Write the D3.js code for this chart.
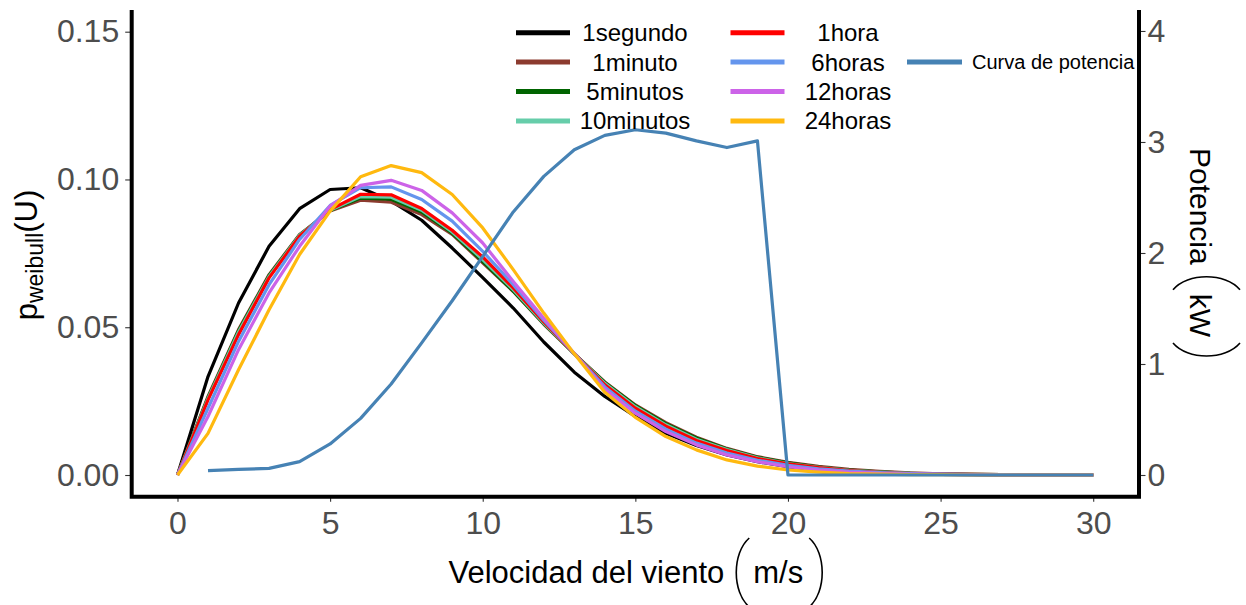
<!DOCTYPE html>
<html>
<head>
<meta charset="utf-8">
<script src="https://cdn.jsdelivr.net/npm/d3@7"></script>
<style>
  body { margin: 0; background: #ffffff; }
  svg { display: block; font-family: "Liberation Sans", Arial, sans-serif; }
</style>
</head>
<body>
<svg id="chart" width="1246" height="605"></svg>
<script>
// ---- data ---------------------------------------------------------------
// wind speed (m/s) at which the Weibull densities are evaluated
const speeds = d3.range(0, 31);

// Weibull probability density for each averaging interval
const p1segundo = [0, 0.0333, 0.0582, 0.0774, 0.0901, 0.0966, 0.0972, 0.0927, 0.0862, 0.0768, 0.0668,
  0.0565, 0.0450, 0.0348, 0.0266, 0.0198, 0.0141, 0.0100, 0.0068, 0.0045, 0.0028,
  0.0017, 0.0010, 0.0006, 0.0003, 0.0002, 0.0001, 0.00005, 0, 0, 0];
const p1minuto = [0, 0.0266, 0.0492, 0.0678, 0.0814, 0.0893, 0.0930, 0.0923, 0.0881, 0.0814, 0.0718,
  0.0621, 0.0510, 0.0410, 0.0315, 0.0237, 0.0177, 0.0128, 0.0090, 0.0062, 0.0043,
  0.0029, 0.0019, 0.0012, 0.0007, 0.0004, 0.0002, 0.0001, 0.00005, 0, 0];
const p5minutos = [0, 0.0262, 0.0488, 0.0675, 0.0812, 0.0895, 0.0937, 0.0933, 0.0890, 0.0818, 0.0722,
  0.0622, 0.0512, 0.0410, 0.0313, 0.0235, 0.0174, 0.0125, 0.0088, 0.0060, 0.0041,
  0.0027, 0.0017, 0.0011, 0.0006, 0.0004, 0.0002, 0.0001, 0.00005, 0, 0];
const p10minutos = [0, 0.0259, 0.0484, 0.0672, 0.0811, 0.0896, 0.0942, 0.0940, 0.0896, 0.0822, 0.0729,
  0.0627, 0.0514, 0.0410, 0.0310, 0.0231, 0.0170, 0.0121, 0.0086, 0.0058, 0.0039,
  0.0026, 0.0016, 0.0010, 0.0006, 0.0003, 0.0002, 0.0001, 0, 0, 0];
const p1hora = [0, 0.0254, 0.0475, 0.0667, 0.0808, 0.0898, 0.0950, 0.0948, 0.0902, 0.0828, 0.0738,
  0.0633, 0.0518, 0.0411, 0.0305, 0.0226, 0.0165, 0.0117, 0.0083, 0.0056, 0.0038,
  0.0025, 0.0015, 0.0009, 0.0005, 0.0003, 0.0002, 0.0001, 0, 0, 0];
const p6horas = [0, 0.0226, 0.0452, 0.0644, 0.0797, 0.0912, 0.0972, 0.0975, 0.0932, 0.0859, 0.0757,
  0.0644, 0.0524, 0.0411, 0.0298, 0.0216, 0.0155, 0.0108, 0.0074, 0.0050, 0.0033,
  0.0021, 0.0013, 0.0008, 0.0005, 0.0003, 0.0001, 0.0001, 0, 0, 0];
const p12horas = [0, 0.0198, 0.0424, 0.0616, 0.0774, 0.0910, 0.0980, 0.0997, 0.0963, 0.0887, 0.0785,
  0.0655, 0.0530, 0.0411, 0.0290, 0.0209, 0.0147, 0.0102, 0.0068, 0.0045, 0.0028,
  0.0017, 0.0010, 0.0006, 0.0003, 0.0002, 0.0001, 0, 0, 0, 0];
const p24horas = [0, 0.0141, 0.0356, 0.0559, 0.0746, 0.0893, 0.1009, 0.1047, 0.1023, 0.0949, 0.0836,
  0.0695, 0.0548, 0.0410, 0.0280, 0.0195, 0.0130, 0.0085, 0.0051, 0.0030, 0.0017,
  0.0010, 0.0005, 0.0003, 0.0001, 0.0001, 0, 0, 0, 0, 0];

const seriesNames = ["1segundo", "1minuto", "5minutos", "10minutos", "1hora", "6horas", "12horas", "24horas"];
const seriesValues = [p1segundo, p1minuto, p5minutos, p10minutos, p1hora, p6horas, p12horas, p24horas];
const seriesColors = ["#000000", "#8C3B2F", "#006400", "#66CDAA", "#FF0000", "#6495ED", "#CC63E8", "#FFB90F"];

// turbine power curve (kW), right axis
const powerSpeeds = d3.range(1, 31);
const powerKW = [0.04, 0.05, 0.06, 0.12, 0.28, 0.51, 0.82, 1.19, 1.57, 1.97,
  2.37, 2.69, 2.93, 3.06, 3.11, 3.08, 3.01, 2.95, 3.01, 0,
  0, 0, 0, 0, 0, 0, 0, 0, 0, 0];
const powerName = "Curva de potencia";
const powerColor = "#4682B4";

// tick values
const xTicks = [0, 5, 10, 15, 20, 25, 30];
const yLeftTicks = [0, 0.05, 0.10, 0.15];
const yRightTicks = [0, 1, 2, 3, 4];

// ---- layout -------------------------------------------------------------
const panel = { left: 131.7, right: 1139, top: 10, bottom: 496.7 };
const svg = d3.select("#chart");

const x = d3.scaleLinear().domain([-1.5, 31.5]).range([panel.left, panel.right]);
const yL = d3.scaleLinear().domain([-0.00734, 0.15734]).range([panel.bottom, panel.top]);
const yR = d3.scaleLinear().domain([-0.1955, 4.189]).range([panel.bottom, panel.top]);

const tickColor = "#333333";
const labelColor = "#4D4D4D";
const tickFont = 32;

// ---- curves -------------------------------------------------------------
const curves = svg.append("g");
seriesValues.forEach((vals, i) => {
  const line = d3.line().x((d, j) => x(speeds[j])).y(d => yL(d));
  curves.append("path")
    .attr("d", line(vals))
    .attr("fill", "none")
    .attr("stroke", seriesColors[i])
    .attr("stroke-width", 3.2)
    .attr("stroke-linejoin", "round");
});
const powerLine = d3.line().x((d, j) => x(powerSpeeds[j])).y(d => yR(d));
curves.append("path")
  .attr("d", powerLine(powerKW))
  .attr("fill", "none")
  .attr("stroke", powerColor)
  .attr("stroke-width", 3.2)
  .attr("stroke-linejoin", "round");

// ---- axes ---------------------------------------------------------------
function styleAxis(g) {
  g.select(".domain").remove();
  g.selectAll(".tick line").attr("stroke", tickColor).attr("stroke-width", 1.1);
  g.selectAll(".tick text")
    .attr("fill", labelColor)
    .attr("font-size", tickFont)
    .attr("font-family", "Liberation Sans, Arial, sans-serif");
}

const xAxis = svg.append("g")
  .attr("transform", `translate(0,${panel.bottom})`)
  .call(d3.axisBottom(x).tickValues(xTicks).tickFormat(d3.format("d")).tickSizeInner(5).tickSizeOuter(0).tickPadding(10));
styleAxis(xAxis);
xAxis.selectAll(".tick text").attr("dy", "0.71em").attr("y", 15);

const yAxisL = svg.append("g")
  .attr("transform", `translate(${panel.left},0)`)
  .call(d3.axisLeft(yL).tickValues(yLeftTicks).tickFormat(d3.format(".2f")).tickSizeInner(6.5).tickSizeOuter(0).tickPadding(6));
styleAxis(yAxisL);

const yAxisR = svg.append("g")
  .attr("transform", `translate(${panel.right},0)`)
  .call(d3.axisRight(yR).tickValues(yRightTicks).tickFormat(d3.format("d")).tickSizeInner(6.5).tickSizeOuter(0).tickPadding(2));
styleAxis(yAxisR);

// thick black axis lines
const axisLines = svg.append("g").attr("stroke", "#000").attr("stroke-width", 4).attr("fill", "none");
axisLines.append("path")
  .attr("d", `M${panel.left},${panel.top} V${panel.bottom} H${panel.right} V${panel.top}`)
  .attr("stroke-linejoin", "miter");

// ---- axis titles --------------------------------------------------------
function paren(g, left, w, top, bottom, opening) {
  const h = bottom - top;
  let d;
  if (opening) {
    const c = left - w / 3;
    d = `M${left + w},${top} C${c},${top + h * 0.22} ${c},${bottom - h * 0.22} ${left + w},${bottom}`;
  } else {
    const c = left + w + w / 3;
    d = `M${left},${top} C${c},${top + h * 0.22} ${c},${bottom - h * 0.22} ${left},${bottom}`;
  }
  g.append("path").attr("d", d).attr("fill", "none").attr("stroke", "#000").attr("stroke-width", 1.6);
}

function unitTitle(g, main, unit, size, top, bottom) {
  const t1 = g.append("text").attr("font-size", size).attr("fill", "#000").text(main);
  const w1 = t1.node().getComputedTextLength();
  const t2 = g.append("text").attr("font-size", size).attr("fill", "#000").text(unit);
  const w2 = t2.node().getComputedTextLength();
  const gapA = 12, pw = 13, gapB = 4, gapC = 6;
  const total = w1 + gapA + pw + gapB + w2 + gapC + pw;
  const x0 = -total / 2;
  t1.attr("x", x0);
  const pl = x0 + w1 + gapA;
  paren(g, pl, pw, top, bottom, true);
  t2.attr("x", pl + pw + gapB);
  const pr = pl + pw + gapB + w2 + gapC;
  paren(g, pr, pw, top, bottom, false);
}

const xTitle = svg.append("g").attr("transform", `translate(${(panel.left + panel.right) / 2},583)`);
unitTitle(xTitle, "Velocidad del viento", "m/s", 31, -45, 24);

const rTitle = svg.append("g").attr("transform", `translate(1190,252) rotate(90)`);
unitTitle(rTitle, "Potencia", "kW", 30, -50, 17);

const lTitle = svg.append("text")
  .attr("transform", `translate(37,255) rotate(-90)`)
  .attr("text-anchor", "middle")
  .attr("font-size", 31)
  .attr("fill", "#000");
lTitle.append("tspan").text("p");
lTitle.append("tspan").attr("font-size", 23).attr("dy", 6).text("weibull");
lTitle.append("tspan").attr("dy", -6).text("(U)");

// ---- legend -------------------------------------------------------------
const legend = svg.append("g");
const rowY = i => 32.7 + 29.4 * i;
const legendCols = [
  { keyX1: 516, keyX2: 570, textX: 635 },
  { keyX1: 730.5, keyX2: 784.5, textX: 848 }
];
seriesNames.forEach((name, i) => {
  const col = legendCols[Math.floor(i / 4)];
  const y = rowY(i % 4);
  legend.append("line")
    .attr("x1", col.keyX1).attr("x2", col.keyX2)
    .attr("y1", y).attr("y2", y)
    .attr("stroke", seriesColors[i]).attr("stroke-width", 5);
  legend.append("text")
    .attr("x", col.textX).attr("y", y + 8.4)
    .attr("text-anchor", "middle")
    .attr("font-size", 24)
    .attr("fill", "#000")
    .text(name);
});
legend.append("line")
  .attr("x1", 907).attr("x2", 962)
  .attr("y1", rowY(1)).attr("y2", rowY(1))
  .attr("stroke", powerColor).attr("stroke-width", 5);
legend.append("text")
  .attr("x", 972).attr("y", rowY(1) + 7)
  .attr("font-size", 20)
  .attr("fill", "#000")
  .text(powerName);
</script>
</body>
</html>
